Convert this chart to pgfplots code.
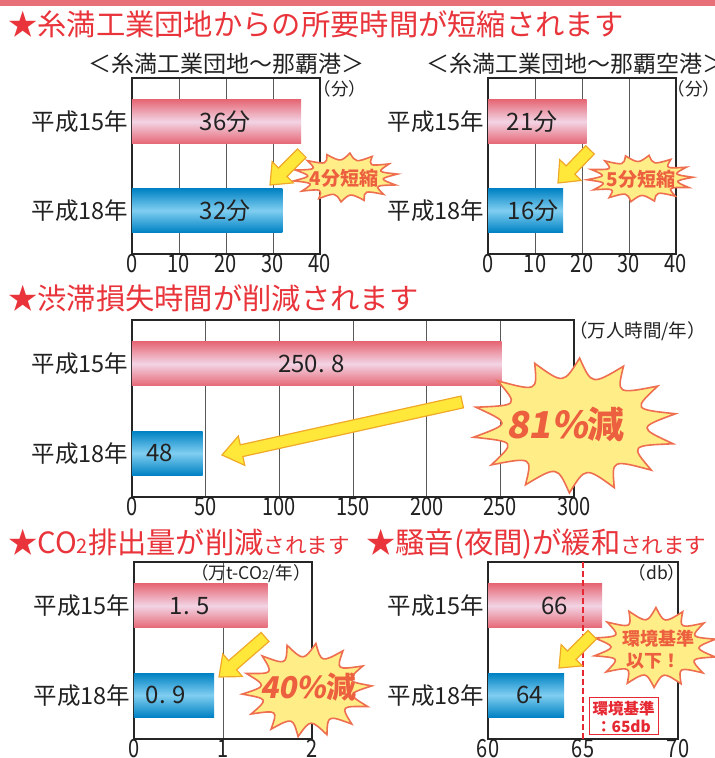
\documentclass[border=0pt]{standalone}
\usepackage{fontspec}
\setmainfont{Noto Sans CJK JP}
\newfontfamily\numfont[FakeStretch=0.8]{Noto Sans CJK JP}
\newfontfamily\slantfont[FakeSlant=0.18]{Noto Sans CJK JP}
\usepackage{pgfplots}
\pgfplotsset{compat=1.18}

\definecolor{tred}{RGB}{232,52,58}
\definecolor{stripe}{RGB}{232,112,120}
\definecolor{pinkedge}{RGB}{230,104,118}
\definecolor{pinkmid}{RGB}{242,212,228}
\definecolor{blueedge}{RGB}{0,130,196}
\definecolor{bluemid}{RGB}{128,206,240}
\definecolor{burstfill}{RGB}{255,238,135}
\definecolor{burstline}{RGB}{238,110,80}
\definecolor{bursttext}{RGB}{236,96,64}
\definecolor{arrowfill}{RGB}{255,232,58}
\definecolor{arrowline}{RGB}{240,168,40}
\definecolor{txt}{RGB}{34,34,34}
\definecolor{stdred}{RGB}{230,40,50}

\pgfplotsset{
  panel/.style={scale only axis, anchor=south west,
    ymin=-0.49, ymax=1.49, ytick={0,1}, yticklabels={平成18年,平成15年},
    axis line style={black!85, line width=1.3pt},
    major tick length=0pt, tick style={draw=none},
    xmajorgrids, major grid style={black!65, line width=0.9pt},
    yticklabel style={font=\fontsize{23.5}{24}\selectfont, text=txt},
    xticklabel style={font=\numfont\fontsize{25}{25}\selectfont, text=txt, yshift=3pt},
    /pgf/number format/assume math mode=true},
  pinkbar/.style={xbar, bar shift=0pt, bar width=0.49, draw=none,
    top color=pinkedge, bottom color=pinkedge, middle color=pinkmid},
  bluebar/.style={xbar, bar shift=0pt, bar width=0.49, draw=none,
    top color=blueedge, bottom color=blueedge, middle color=bluemid},
}
\tikzset{lab/.style={font=\fontsize{24}{24}\selectfont, text=txt, inner sep=0pt}}

% cx, cy, rx, ry, n, inner factor, start angle
\newcommand{\burst}[7]{%
  \filldraw[draw=burstline, fill=burstfill, line width=1.6pt, line join=miter]
   ({#1+#3*cos(#7)},{#2+#4*sin(#7)})
   \foreach \k in {1,...,#5}{
     .. controls ({#1+#6*#3*cos(#7+(\k-0.5)*360/#5)},{#2+#6*#4*sin(#7+(\k-0.5)*360/#5)})
     .. ({#1+#3*cos(#7+\k*360/#5)},{#2+#4*sin(#7+\k*360/#5)})
   } -- cycle;}
% tipx, tipy, angle, length, shaft width, head width, head length
\newcommand{\bigarrow}[7]{%
  \begin{scope}[shift={(#1,#2)}, rotate=#3]
  \filldraw[draw=arrowline, fill=arrowfill, line width=1.2pt, line join=miter]
    (0,0) -- ({#7},{#6/2}) -- ({#7},{#5/2}) -- ({#4},{#5/2}) -- ({#4},{-#5/2})
    -- ({#7},{-#5/2}) -- ({#7},{-#6/2}) -- cycle;
  \end{scope}}

\begin{document}
\begin{tikzpicture}
\useasboundingbox (0,0) rectangle (715pt,758pt);
\clip (0,0) rectangle (715pt,758pt);
\fill[white] (0,0) rectangle (715pt,758pt);

% Panel 1
\begin{axis}[panel, at={(132pt,504pt)}, width=188pt, height=176pt,
  xmin=0, xmax=40, xtick={0,10,20,30,40}]
\addplot[pinkbar] coordinates {(36,1)};
\addplot[bluebar] coordinates {(32,0)};
\node[lab] at (axis cs:19.8,1) {36分};
\node[lab] at (axis cs:19.8,0) {32分};
\end{axis}

% Panel 2
\begin{axis}[panel, at={(488pt,504pt)}, width=188pt, height=176pt,
  xmin=0, xmax=40, xtick={0,10,20,30,40}]
\addplot[pinkbar] coordinates {(21,1)};
\addplot[bluebar] coordinates {(16,0)};
\node[lab] at (axis cs:9.4,1) {21分};
\node[lab] at (axis cs:9.6,0) {16分};
\end{axis}

% Panel 3
\begin{axis}[panel, at={(132pt,261pt)}, width=442pt, height=177pt,
  xmin=0, xmax=300, xtick={0,50,100,150,200,250,300}]
\addplot[pinkbar] coordinates {(250.8,1)};
\addplot[bluebar] coordinates {(48,0)};
\node[lab] at (axis cs:122,1) {250. 8};
\node[lab] at (axis cs:19,0) {48};
\end{axis}

% Panel 4
\begin{axis}[panel, at={(134pt,19pt)}, width=178pt, height=177pt,
  xmin=0, xmax=2, xtick={0,1,2}]
\addplot[pinkbar] coordinates {(1.5,1)};
\addplot[bluebar] coordinates {(0.9,0)};
\node[lab] at (axis cs:0.63,1) {1. 5};
\node[lab] at (axis cs:0.36,0) {0. 9};
\end{axis}

% Panel 5
\begin{axis}[panel, at={(488pt,19pt)}, width=190pt, height=177pt,
  xmin=60, xmax=70, xtick={60,65,70}, xmajorgrids=false]
\addplot[pinkbar] coordinates {(66,1)};
\addplot[bluebar] coordinates {(64,0)};
\draw[stdred, line width=1.3pt, dash pattern=on 6pt off 3pt] (axis cs:65,-0.49) -- (axis cs:65,1.49);
\node[lab] at (axis cs:63.5,1) {66};
\node[lab] at (axis cs:62.2,0) {64};
\end{axis}

\begin{scope}[x=1pt,y=1pt]
\fill[stripe] (0,752) rectangle (715,758);
% titles
\node[anchor=west, inner sep=0, text=tred, font=\fontsize{29.3}{30}\selectfont] at (8,734) {★糸満工業団地からの所要時間が短縮されます};
\node[anchor=west, inner sep=0, text=tred, font=\fontsize{29.3}{30}\selectfont] at (8,459.5) {★渋滞損失時間が削減されます};
\node[anchor=base west, inner sep=0, text=tred] at (8,204) {\fontsize{29.3}{30}\selectfont ★CO{\fontsize{20}{20}\selectfont 2}排出量が削減{\fontsize{21.5}{22}\selectfont されます}};
\node[anchor=base west, inner sep=0, text=tred] at (366,204) {\fontsize{29.3}{30}\selectfont ★騒音(夜間)が緩和{\fontsize{21.5}{22}\selectfont されます}};
% subtitles
\node[inner sep=0, text=txt, font=\fontsize{23}{24}\selectfont] at (226.5,694) {＜糸満工業団地～那覇港＞};
\node[inner sep=0, text=txt, font=\fontsize{23}{24}\selectfont] at (575.5,694) {＜糸満工業団地～那覇空港＞};
% units
\node[inner sep=0, text=txt, font=\fontsize{17.5}{18}\selectfont] at (340,669) {（分）};
\node[inner sep=0, text=txt, font=\fontsize{17.5}{18}\selectfont] at (694,669) {（分）};
\node[inner sep=0, text=txt, font=\fontsize{18.5}{19}\selectfont] at (637.5,426.5) {（万人時間/年）};
\node[inner sep=0, text=txt, font=\fontsize{17.5}{18}\selectfont] at (251,184.5) {（万t-CO{\fontsize{12}{12}\selectfont 2}/年）};
\node[inner sep=0, text=txt, font=\fontsize{17.5}{18}\selectfont] at (657,185) {（db）};

% bursts
\burst{345.5}{580.5}{52.5}{24.5}{14}{0.64}{8}
\burst{640}{579.5}{53}{23.5}{14}{0.64}{3}
\burst{574.5}{332.5}{102.5}{67.5}{14}{0.62}{10}
\burst{307}{68}{65}{47}{14}{0.62}{5}
\burst{655}{110.5}{62}{40}{14}{0.62}{12}

\node[inner sep=0, text=bursttext, font=\bfseries\fontsize{19}{20}\selectfont] at (344,579.5) {4分短縮};
\node[inner sep=0, text=bursttext, font=\bfseries\fontsize{19}{20}\selectfont] at (641,578.5) {5分短縮};
\node[inner sep=0, text=bursttext, font=\fontsize{37}{38}\selectfont] at (565.5,333.5) {{\slantfont\bfseries 81\%}{\bfseries 減}};
\node[inner sep=0, text=bursttext, font=\fontsize{30}{31}\selectfont] at (308.5,70.5) {{\slantfont\bfseries 40\%}{\bfseries 減}};
\node[inner sep=0, text=bursttext, font=\bfseries\fontsize{18}{19}\selectfont] at (658,119) {環境基準};
\node[inner sep=0, text=bursttext, font=\bfseries\fontsize{18}{19}\selectfont] at (653,96.5) {以下！};

% arrows
\bigarrow{270}{573}{45}{45}{12}{30}{18}
\bigarrow{558}{575}{46}{46}{12}{30}{18}
\bigarrow{222}{303}{12.45}{246}{12}{30}{20}
\bigarrow{219}{81}{41}{61}{12}{30}{18}
\bigarrow{559}{90}{45}{47}{12}{30}{18}

% standard box
\filldraw[draw=stdred, fill=white, line width=1pt] (589,23) rectangle (658,60);
\node[inner sep=0, text=stdred, font=\bfseries\fontsize{15.5}{16}\selectfont] at (623.5,49.5) {環境基準};
\node[inner sep=0, text=stdred, font=\bfseries\fontsize{15.5}{16}\selectfont] at (623.5,32) {：65db};
\end{scope}
\end{tikzpicture}
\end{document}
